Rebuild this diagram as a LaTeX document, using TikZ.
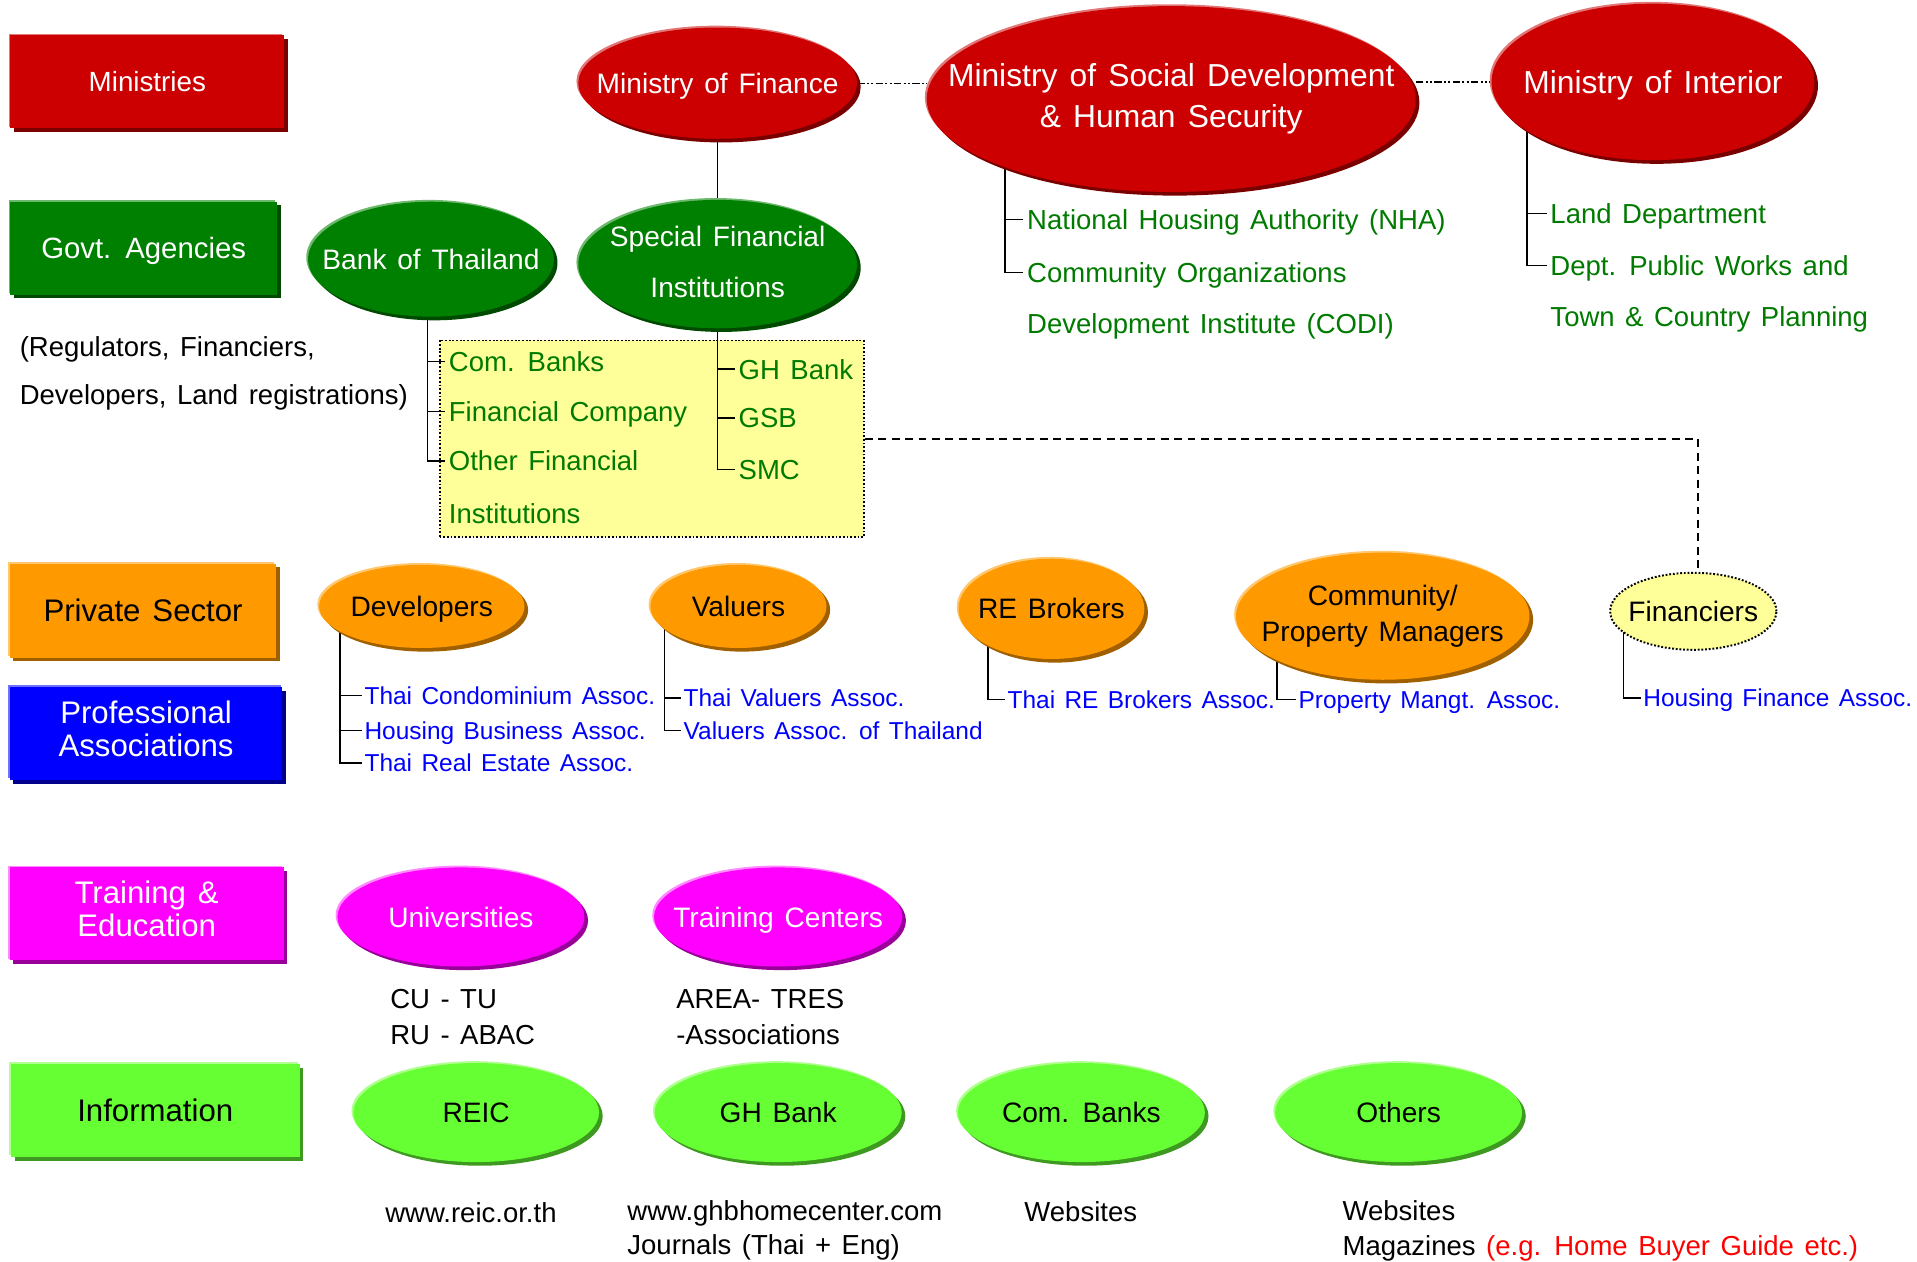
\documentclass[tikz,border=0pt]{standalone}
\usepackage{fontspec}
\setmainfont{Liberation Sans}[WordSpace=1.38]
\usetikzlibrary{shapes.geometric,shadows}
\pgfdeclarelayer{back}
\pgfdeclarelayer{bg}
\pgfsetlayers{back,bg,main}
\definecolor{cred}{HTML}{CC0000}
\definecolor{cdred}{HTML}{7A0000}
\definecolor{clred}{HTML}{E27777}
\definecolor{cgreen}{HTML}{008000}
\definecolor{cdgreen}{HTML}{004A00}
\definecolor{clgreen}{HTML}{6CB86C}
\definecolor{corange}{HTML}{FF9900}
\definecolor{cdorange}{HTML}{A06000}
\definecolor{clorange}{HTML}{FFC870}
\definecolor{cblue}{HTML}{0000FF}
\definecolor{cdblue}{HTML}{00008C}
\definecolor{clblue}{HTML}{7070FF}
\definecolor{cmag}{HTML}{FF00FF}
\definecolor{cdmag}{HTML}{990099}
\definecolor{clmag}{HTML}{FF8CFF}
\definecolor{clime}{HTML}{66FF33}
\definecolor{cdlime}{HTML}{3D991F}
\definecolor{cllime}{HTML}{B0FF90}
\definecolor{cyel}{HTML}{FFFF99}
\definecolor{txtgreen}{HTML}{007A00}
\definecolor{txtblue}{HTML}{0000FF}
\definecolor{txtred}{HTML}{FF0000}
\tikzset{
  rims/.style n args={2}{general shadow={shadow xshift=-1.5pt,shadow yshift=1.5pt,fill=#1},
                         general shadow={shadow xshift=3pt,shadow yshift=-3pt,fill=#2}},
  catbox/.style={rectangle, inner sep=0pt, minimum height=76pt},
  ell/.style={ellipse, inner sep=0pt},
  capmid/.style={text height=#1, text depth=0pt},
  fbig/.style={font=\fontsize{25.5}{27}\selectfont},
  fmid/.style={font=\fontsize{23}{27}\selectfont},
  glab/.style={anchor=west, inner xsep=3pt, inner ysep=0pt, text=txtgreen, text height=16.1pt, text depth=0pt,
               font=\fontsize{22.5}{27}\selectfont},
  blab/.style={anchor=west, inner xsep=2pt, inner ysep=0pt, text=txtblue, text height=14.3pt, text depth=0pt,
               font=\fontsize{20}{24}\selectfont},
  klab/.style={anchor=west, inner xsep=3pt, inner ysep=0pt, text=black, text height=16.1pt, text depth=0pt,
               font=\fontsize{22.5}{27}\selectfont},
  conn/.style={draw=black, line width=1.2pt},
  ddot/.style={draw=black, line width=1pt, dash pattern=on 6pt off 2pt on 1.5pt off 2pt on 1.5pt off 2pt},
  dline/.style={draw=black, line width=2pt, dash pattern=on 6.5pt off 4.5pt},
}
\begin{document}
\begin{tikzpicture}[x=1pt,y=-1pt]
\useasboundingbox (0,0) rectangle (1568,1032);

% category boxes
\node[catbox, rims={clred}{cdred}, fill=cred, minimum width=224pt, text=white, capmid=16.3pt,
      font=\fontsize{22.7}{27}\selectfont] (ministries) at (120.5,67) {Ministries};
\node[catbox, rims={clgreen}{cdgreen}, fill=cgreen, minimum width=218pt, text=white, capmid=17.2pt,
      font=\fontsize{24}{27}\selectfont] (govt) at (117.5,203) {Govt. Agencies};
\node[catbox, rims={clorange}{cdorange}, fill=corange, minimum width=218pt, minimum height=77pt, text=black,
      fbig, capmid=18.3pt] (private) at (117,499.5) {Private Sector};
\node[catbox, rims={clblue}{cdblue}, fill=cblue, minimum width=223pt, text=white, fbig]
      (prof) at (119.5,600) {\begin{tabular}{@{}c@{}}Professional\\Associations\end{tabular}};
\node[catbox, rims={clmag}{cdmag}, fill=cmag, minimum width=224pt, text=white, fbig]
      (training) at (120,747.5) {\begin{tabular}{@{}c@{}}Training \&\\Education\end{tabular}};
\node[catbox, rims={cllime}{cdlime}, fill=clime, minimum width=236pt, text=black, fbig, capmid=18.3pt]
      (info) at (127,908.5) {Information};

% ministries
\node[ell, rims={clred}{cdred}, fill=cred, minimum width=228pt, minimum height=91pt, text=white, fmid, capmid=16.5pt]
      (mof) at (587,68) {\makebox[0pt]{Ministry of Finance}};
\node[ell, rims={clred}{cdred}, fill=cred, minimum width=400pt, minimum height=152pt, text=white,
      font=\fontsize{26}{33}\selectfont]
      (msd) at (958,81) {\makebox[0pt]{\raisebox{6pt}{\begin{tabular}{@{}c@{}}Ministry of Social Development\\\& Human Security\end{tabular}}}};
\node[ell, rims={clred}{cdred}, fill=cred, minimum width=264pt, minimum height=128pt, text=white,
      font=\fontsize{26}{30}\selectfont, capmid=18.6pt]
      (interior) at (1352,67) {\makebox[0pt]{Ministry of Interior}};

% agencies
\node[ell, rims={clgreen}{cdgreen}, fill=cgreen, minimum width=201pt, minimum height=94pt, text=white, fmid, capmid=16.5pt]
      (bot) at (352.5,212) {\makebox[0pt]{Bank of Thailand}};
\node[ell, rims={clgreen}{cdgreen}, fill=cgreen, minimum width=228pt, minimum height=105pt, text=white,
      font=\fontsize{23}{42}\selectfont]
      (sfi) at (587,216) {\makebox[0pt]{\raisebox{-8.25pt}{\smash{\begin{tabular}{@{}c@{}}Special Financial\\Institutions\end{tabular}}}}};

% yellow box
\begin{pgfonlayer}{back}
\node[draw=black, fill=cyel, line width=1.6pt, dash pattern=on 1.5pt off 1.5pt, minimum width=347pt,
      minimum height=161pt, inner sep=0pt] (fibox) at (533,359) {};
\end{pgfonlayer}

% private sector
\node[ell, rims={clorange}{cdorange}, fill=corange, minimum width=168pt, minimum height=68pt, fmid, capmid=16.5pt]
      (dev) at (345,496) {\makebox[0pt]{Developers}};
\node[ell, rims={clorange}{cdorange}, fill=corange, minimum width=144pt, minimum height=68pt, fmid, capmid=16.5pt]
      (val) at (604,496) {\makebox[0pt]{Valuers}};
\node[ell, rims={clorange}{cdorange}, fill=corange, minimum width=152pt, minimum height=82pt, fmid, capmid=16.5pt]
      (reb) at (860,498) {\makebox[0pt]{RE Brokers}};
\node[ell, rims={clorange}{cdorange}, fill=corange, minimum width=240pt, minimum height=104pt,
      font=\fontsize{23}{30}\selectfont]
      (cpm) at (1131,504) {\makebox[0pt]{\raisebox{5.5pt}{\begin{tabular}{@{}c@{}}Community/\\Property Managers\end{tabular}}}};
\node[ell, fill=cyel, draw=black, line width=1.6pt, dash pattern=on 1.5pt off 1.5pt,
      minimum width=136pt, minimum height=63pt, fmid, capmid=16.5pt]
      (fin) at (1385,500) {\makebox[0pt]{Financiers}};

% training
\node[ell, rims={clmag}{cdmag}, fill=cmag, minimum width=202pt, minimum height=81pt, text=white, fmid, capmid=16.5pt]
      (uni) at (377,750) {\makebox[0pt]{Universities}};
\node[ell, rims={clmag}{cdmag}, fill=cmag, minimum width=203pt, minimum height=81pt, text=white, fmid, capmid=16.5pt]
      (tc) at (636.5,750) {\makebox[0pt]{Training Centers}};

% information
\node[ell, rims={cllime}{cdlime}, fill=clime, minimum width=201pt, minimum height=81pt, fmid, capmid=16.5pt]
      (reic) at (389.5,910) {\makebox[0pt]{REIC}};
\node[ell, rims={cllime}{cdlime}, fill=clime, minimum width=202pt, minimum height=81pt, fmid, capmid=16.5pt]
      (ghbi) at (636.5,910) {\makebox[0pt]{GH Bank}};
\node[ell, rims={cllime}{cdlime}, fill=clime, minimum width=202pt, minimum height=81pt, fmid, capmid=16.5pt]
      (cbi) at (884.5,910) {\makebox[0pt]{Com. Banks}};
\node[ell, rims={cllime}{cdlime}, fill=clime, minimum width=202pt, minimum height=81pt, fmid, capmid=16.5pt]
      (oth) at (1144,910) {\makebox[0pt]{Others}};

% green labels
\node[glab] (cb)   at (364,295.5) {Com. Banks};
\node[glab] (fc)   at (364,336.5) {Financial Company};
\node[glab] (ofi)  at (364,377) {Other Financial};
\node[glab] (ofi2) at (364,420) {Institutions};
\node[glab] (ghb)  at (601,302) {GH Bank};
\node[glab] (gsb)  at (601,342) {GSB};
\node[glab] (smc)  at (601,384) {SMC};
\node[glab] (nha)  at (837,179.5) {National Housing Authority (NHA)};
\node[glab] (codi) at (837,223) {Community Organizations};
\node[glab] (codi2) at (837,264.5) {Development Institute (CODI)};
\node[glab] (land) at (1265,174.5) {Land Department};
\node[glab] (dpw)  at (1265,217) {Dept. Public Works and};
\node[glab] (tcp)  at (1265,259) {Town \& Country Planning};

% blue labels
\node[blab] (tca)  at (296,569) {Thai Condominium Assoc.};
\node[blab] (hba)  at (296,597.5) {Housing Business Assoc.};
\node[blab] (trea) at (296,624) {Thai Real Estate Assoc.};
\node[blab] (tva)  at (557,571) {Thai Valuers Assoc.};
\node[blab] (vat)  at (557,597.5) {Valuers Assoc. of Thailand};
\node[blab] (treb) at (822,572) {Thai RE Brokers Assoc.};
\node[blab] (pma)  at (1060,572) {Property Mangt. Assoc.};
\node[blab] (hfa)  at (1342,571) {Housing Finance Assoc.};

% black texts
\node[klab] (reg1) at (13,283.5) {(Regulators, Financiers,};
\node[klab] (reg2) at (13,323) {Developers, Land registrations)};
\node[klab] (cutu) at (316,816.5) {CU - TU};
\node[klab] (ruab) at (316,846) {RU - ABAC};
\node[klab] (area) at (550,816.5) {AREA- TRES};
\node[klab] (asso) at (550,846) {-Associations};
\node[klab] (reicw) at (312,992) {www.reic.or.th};
\node[klab] (ghbw) at (510,990) {www.ghbhomecenter.com};
\node[klab] (jour) at (510,1018) {Journals (Thai + Eng)};
\node[klab, anchor=center] (web1) at (884,991) {Websites};
\node[klab] (web2) at (1095,990) {Websites};
\node[klab] (mag)  at (1095,1019) {Magazines {\color{txtred}(e.g. Home Buyer Guide etc.)}};

% connectors
\begin{pgfonlayer}{bg}
\draw[ddot] (mof.east) -- (mof.east -| msd.west);
\draw[ddot] (msd.east |- interior.west) -- (interior.west);
\draw[conn] (mof.south) -- (sfi.north);
\foreach \t in {cb,fc,ofi} \draw[conn] ([xshift=-3pt]bot.center) |- (\t.west);
\foreach \t in {ghb,gsb,smc} \draw[conn] (sfi.center) |- (\t.west);
\foreach \t in {nha,codi} \draw[conn] ([xshift=-136pt]msd.center) |- (\t.west);
\foreach \t in {land,dpw} \draw[conn] ([xshift=-103pt]interior.center) |- (\t.west);
\foreach \t in {tca,hba,trea} \draw[conn] ([xshift=-67pt]dev.center) |- (\t.west);
\foreach \t in {tva,vat} \draw[conn] ([xshift=-60.5pt]val.center) |- (\t.west);
\draw[conn] ([xshift=-52pt]reb.center) |- (treb.west);
\draw[conn] ([xshift=-86.5pt]cpm.center) |- (pma.west);
\draw[conn] ([xshift=-57pt]fin.center) |- (hfa.west);
\draw[dline] (fibox.east) -| ([xshift=4pt]fin.north);
\end{pgfonlayer}
\end{tikzpicture}
\end{document}
